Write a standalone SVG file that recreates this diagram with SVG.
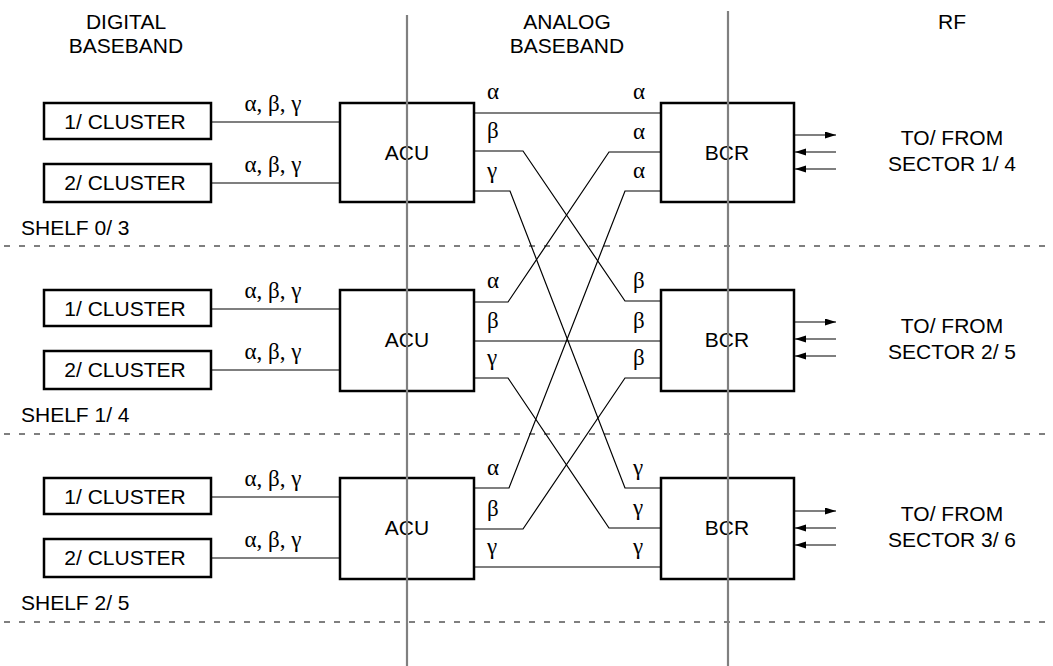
<svg xmlns="http://www.w3.org/2000/svg" width="1053" height="666" viewBox="0 0 1053 666">
<style>
.box{fill:#fff;stroke:#000;stroke-width:2.5}
.ln{fill:none;stroke:#000;stroke-width:1.2}
.dash{stroke:#000;stroke-width:1.2;stroke-dasharray:6 9}
.vl{stroke:#808080;stroke-width:2.2}
.t{font-family:"Liberation Sans",Arial,sans-serif;font-size:21px;fill:#000}
.m{text-anchor:middle}
.g{font-family:"Liberation Serif","Times New Roman",serif;font-size:23px;fill:#000}
</style>
<defs>
<marker id="ah" markerUnits="userSpaceOnUse" markerWidth="12" markerHeight="8" refX="11" refY="3.5" orient="auto">
<path d="M0,0 L11,3.5 L0,7 z" fill="#000"/>
</marker>
</defs>
<rect width="1053" height="666" fill="#fff"/>
<g id="headers">
<text class="t m" x="126" y="29">DIGITAL</text>
<text class="t m" x="126" y="53">BASEBAND</text>
<text class="t m" x="567" y="29">ANALOG</text>
<text class="t m" x="567" y="53">BASEBAND</text>
<text class="t m" x="952" y="29">RF</text>
</g>
<g id="shelf-dividers">
<line class="dash" x1="4" y1="246" x2="1053" y2="246"/>
<line class="dash" x1="4" y1="434" x2="1053" y2="434"/>
<line class="dash" x1="4" y1="622" x2="1053" y2="622"/>
<text class="t" x="21" y="235">SHELF 0/ 3</text>
<text class="t" x="21" y="422">SHELF 1/ 4</text>
<text class="t" x="21" y="610">SHELF 2/ 5</text>
</g>
<g id="connectors">
<line class="ln" x1="211" y1="122" x2="340" y2="122"/>
<line class="ln" x1="211" y1="183" x2="340" y2="183"/>
<line class="ln" x1="211" y1="309" x2="340" y2="309"/>
<line class="ln" x1="211" y1="370" x2="340" y2="370"/>
<line class="ln" x1="211" y1="497" x2="340" y2="497"/>
<line class="ln" x1="211" y1="558" x2="340" y2="558"/>
<polyline class="ln" points="474,113 661,113"/>
<polyline class="ln" points="474,151 523,151 625,301 661,301"/>
<polyline class="ln" points="474,191 510,191 625,488 661,488"/>
<polyline class="ln" points="474,302 508,302 609,152 661,152"/>
<polyline class="ln" points="474,341 661,341"/>
<polyline class="ln" points="474,378 508,378 609,528 661,528"/>
<polyline class="ln" points="474,488 509,488 625,191 661,191"/>
<polyline class="ln" points="474,529 523,529 625,378 661,378"/>
<polyline class="ln" points="474,567 661,567"/>
<line class="ln" x1="794" y1="135" x2="836" y2="135" marker-end="url(#ah)"/>
<line class="ln" x1="836" y1="152" x2="795" y2="152" marker-end="url(#ah)"/>
<line class="ln" x1="836" y1="169" x2="795" y2="169" marker-end="url(#ah)"/>
<line class="ln" x1="794" y1="322" x2="836" y2="322" marker-end="url(#ah)"/>
<line class="ln" x1="836" y1="339" x2="795" y2="339" marker-end="url(#ah)"/>
<line class="ln" x1="836" y1="356" x2="795" y2="356" marker-end="url(#ah)"/>
<line class="ln" x1="794" y1="511" x2="836" y2="511" marker-end="url(#ah)"/>
<line class="ln" x1="836" y1="528" x2="795" y2="528" marker-end="url(#ah)"/>
<line class="ln" x1="836" y1="545" x2="795" y2="545" marker-end="url(#ah)"/>
</g>
<g id="connector-labels">
<text class="g m" x="273" y="111">α, β, γ</text>
<text class="g m" x="273" y="172">α, β, γ</text>
<text class="g m" x="273" y="298">α, β, γ</text>
<text class="g m" x="273" y="359">α, β, γ</text>
<text class="g m" x="273" y="486">α, β, γ</text>
<text class="g m" x="273" y="547">α, β, γ</text>
<text class="g" x="487" y="99">α</text>
<text class="g" x="487" y="138">β</text>
<text class="g" x="487" y="178">γ</text>
<text class="g" x="487" y="288">α</text>
<text class="g" x="487" y="328">β</text>
<text class="g" x="487" y="365">γ</text>
<text class="g" x="487" y="475">α</text>
<text class="g" x="487" y="516">β</text>
<text class="g" x="487" y="554">γ</text>
<text class="g" x="633" y="99">α</text>
<text class="g" x="633" y="139">α</text>
<text class="g" x="633" y="178">α</text>
<text class="g" x="633" y="288">β</text>
<text class="g" x="633" y="328">β</text>
<text class="g" x="633" y="365">β</text>
<text class="g" x="633" y="475">γ</text>
<text class="g" x="633" y="515">γ</text>
<text class="g" x="633" y="554">γ</text>
</g>
<g id="cluster-1-shelf0"><rect class="box" x="44" y="103" width="167" height="36"/><text class="t m" x="125" y="129">1/ CLUSTER</text></g>
<g id="cluster-2-shelf0"><rect class="box" x="44" y="164" width="167" height="38"/><text class="t m" x="125" y="190">2/ CLUSTER</text></g>
<g id="cluster-1-shelf1"><rect class="box" x="44" y="290" width="167" height="36"/><text class="t m" x="125" y="316">1/ CLUSTER</text></g>
<g id="cluster-2-shelf1"><rect class="box" x="44" y="351" width="167" height="38"/><text class="t m" x="125" y="377">2/ CLUSTER</text></g>
<g id="cluster-1-shelf2"><rect class="box" x="44" y="478" width="167" height="36"/><text class="t m" x="125" y="504">1/ CLUSTER</text></g>
<g id="cluster-2-shelf2"><rect class="box" x="44" y="539" width="167" height="38"/><text class="t m" x="125" y="565">2/ CLUSTER</text></g>
<g id="acu-1"><rect class="box" x="340" y="103" width="134" height="99"/><text class="t m" x="407" y="160">ACU</text></g>
<g id="acu-2"><rect class="box" x="340" y="290" width="134" height="101"/><text class="t m" x="407" y="347">ACU</text></g>
<g id="acu-3"><rect class="box" x="340" y="478" width="134" height="101"/><text class="t m" x="407" y="535">ACU</text></g>
<g id="bcr-1"><rect class="box" x="661" y="103" width="133" height="99"/><text class="t m" x="727" y="160">BCR</text></g>
<g id="bcr-2"><rect class="box" x="661" y="290" width="133" height="101"/><text class="t m" x="727" y="347">BCR</text></g>
<g id="bcr-3"><rect class="box" x="661" y="478" width="133" height="101"/><text class="t m" x="727" y="535">BCR</text></g>
<g id="rf-labels">
<text class="t m" x="952" y="145">TO/ FROM</text>
<text class="t m" x="952" y="171">SECTOR 1/ 4</text>
<text class="t m" x="952" y="333">TO/ FROM</text>
<text class="t m" x="952" y="359">SECTOR 2/ 5</text>
<text class="t m" x="952" y="521">TO/ FROM</text>
<text class="t m" x="952" y="547">SECTOR 3/ 6</text>
</g>
<g id="domain-boundaries">
<line class="vl" x1="407" y1="15" x2="407" y2="666"/>
<line class="vl" x1="728" y1="11" x2="728" y2="666"/>
</g>
</svg>
